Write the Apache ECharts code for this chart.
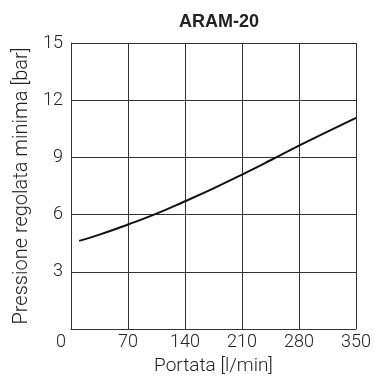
<!DOCTYPE html>
<html>
<head>
<meta charset="utf-8">
<script src="https://cdn.jsdelivr.net/npm/echarts@6/dist/echarts.min.js"></script>
<style>html,body{margin:0;padding:0;background:#fff;}#c{width:374px;height:381px;}</style>
</head>
<body>
<div id="c"></div>
<script>
const titleText = 'ARAM-20';
const xName = 'Portata [l/min]';
const yName = 'Pressione regolata minima [bar]';
const flow = [10, 35, 70, 105, 140, 175, 210, 245, 280, 315, 350];
const pressure = [4.62, 4.95, 5.48, 6.05, 6.7, 7.38, 8.1, 8.85, 9.62, 10.35, 11.07];

const tickFont = "Roboto, sans-serif";
const chart = echarts.init(document.getElementById('c'), null, {renderer: 'canvas'});
chart.setOption({
  animation: false,
  backgroundColor: '#fff',
  title: {
    text: titleText, left: 214, top: 8, textAlign: 'center',
    textStyle: {fontFamily: 'Liberation Sans', fontWeight: 'bold', fontSize: 18, color: '#222'}
  },
  grid: {left: 71, right: 16, top: 43, bottom: 51, containLabel: false},
  xAxis: {
    type: 'value', min: 0, max: 350, interval: 70,
    name: xName, nameLocation: 'middle', nameGap: 28,
    nameTextStyle: {fontFamily: 'Roboto', fontWeight: 300, fontSize: 19, color: '#222'},
    axisLine: {show: true, lineStyle: {color: '#333', width: 1}},
    axisTick: {show: false},
    splitLine: {show: true, lineStyle: {color: '#333', width: 1}},
    axisLabel: {
      margin: 4, fontFamily: tickFont, fontWeight: 300, fontSize: 18, color: '#222',
      formatter: v => v === 0 ? '{z|0}' : String(v),
      rich: {z: {fontFamily: tickFont, fontWeight: 300, fontSize: 18, color: '#222', padding: [0, 20, 0, 0]}}
    }
  },
  yAxis: {
    type: 'value', min: 0, max: 15, interval: 3,
    name: yName, nameLocation: 'middle', nameGap: 37,
    nameTextStyle: {fontFamily: 'Roboto', fontWeight: 300, fontSize: 20, color: '#222'},
    axisLine: {show: true, lineStyle: {color: '#333', width: 1}},
    axisTick: {show: false},
    splitLine: {show: true, lineStyle: {color: '#333', width: 1}},
    axisLabel: {
      margin: 8, fontFamily: tickFont, fontWeight: 300, fontSize: 18, color: '#222',
      formatter: v => v === 0 ? '' : String(v)
    }
  },
  series: [{
    type: 'line', smooth: true, showSymbol: false,
    data: flow.map((x, i) => [x, pressure[i]]),
    lineStyle: {color: '#111', width: 2}
  }]
});
</script>
</body>
</html>
